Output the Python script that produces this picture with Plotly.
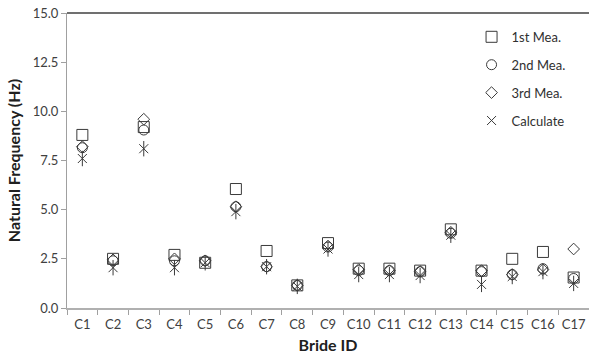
import plotly.graph_objects as go

bridges = [f"C{i}" for i in range(1, 18)]
first_mea = [8.8, 2.5, 9.2, 2.7, 2.3, 6.05, 2.9, 1.15, 3.3, 2.0, 2.0, 1.9, 4.0, 1.9, 2.5, 2.85, 1.55]
second_mea = [8.15, 2.4, 9.05, 2.4, 2.4, 5.15, 2.1, 1.15, 3.1, 1.9, 1.9, 1.85, 3.8, 1.85, 1.7, 2.0, 1.5]
third_mea = [8.2, 2.45, 9.6, 2.5, 2.4, 5.15, 2.1, 1.15, 3.15, 1.95, 1.9, 1.85, 3.85, 1.9, 1.7, 1.95, 3.0]
calculate = [7.6, 2.05, 8.1, 2.05, 2.3, 4.9, 2.1, 1.1, 3.0, 1.7, 1.7, 1.65, 3.7, 1.2, 1.6, 1.85, 1.25]

y_ticks = [0, 2.5, 5, 7.5, 10, 12.5, 15]

ink = "#3a3a3a"
font = "Lato, 'Open Sans', sans-serif"

fig = go.Figure()

def add_series(name, values, symbol, size, group, show=True):
    fig.add_trace(go.Scatter(
        x=bridges, y=values, mode="markers", name=name,
        legendgroup=group, showlegend=show,
        marker=dict(symbol=symbol, size=size, color=ink,
                    line=dict(color=ink, width=1)),
    ))

add_series("1st Mea.", first_mea, "square-open", 11, "g1")
add_series("2nd Mea.", second_mea, "circle-open", 10, "g2")
add_series("3rd Mea.", third_mea, "diamond-open", 9, "g3")
add_series("Calculate", calculate, "x-thin-open", 9, "g4")
add_series("Calculate", calculate, "line-ns-open", 11, "g4", show=False)

# dark line along the top of the plot area
fig.add_shape(type="line", xref="paper", yref="paper", x0=0, x1=1, y0=1, y1=1,
              line=dict(color="#404040", width=1.5))

fig.update_layout(
    width=589, height=359,
    margin=dict(l=67, r=0, t=13, b=51),
    paper_bgcolor="white", plot_bgcolor="white",
    font=dict(family=font, size=13, color="#404040"),
    legend=dict(x=0.775, y=0.97, xanchor="left", yanchor="top",
                bgcolor="rgba(0,0,0,0)", tracegroupgap=8,
                font=dict(size=13, color="#303030"), itemwidth=30),
    xaxis=dict(
        title=dict(text="<b>Bride ID</b>", font=dict(size=16, color="#202020"), standoff=8),
        showgrid=False, showline=True, linecolor="#b0b0b0", linewidth=1.5,
        ticks="outside", tickson="boundaries", ticklen=5, tickcolor="#a0a0a0",
        ticklabelstandoff=4, tickangle=0, range=[-0.5, 16.5],
    ),
    yaxis=dict(
        title=dict(text="<b>Natural Frequency (Hz)</b>", font=dict(size=16, color="#202020"), standoff=8),
        range=[0, 15], tickvals=y_ticks, tickformat=".1f",
        showgrid=False, showline=True, linecolor="#a0a0a0", linewidth=1,
        ticks="outside", ticklen=5, tickcolor="#a0a0a0", zeroline=False,
    ),
)

fig.write_html("out.html")
